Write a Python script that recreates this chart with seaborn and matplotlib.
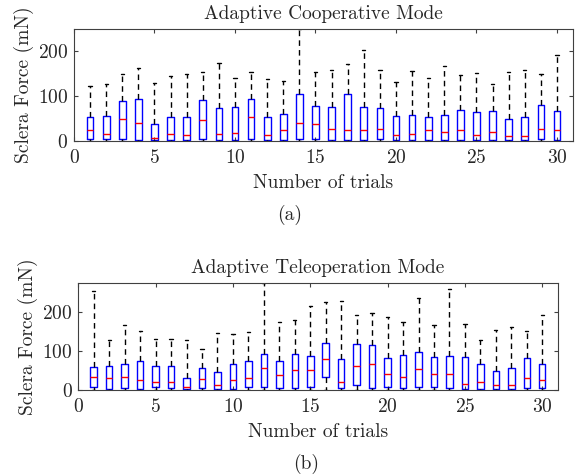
import numpy as np
import pandas as pd
import seaborn as sns
import matplotlib.pyplot as plt

# trial numbers
trials = list(range(1, 31))

# Adaptive Cooperative Mode - box statistics (mN)
coop_low = [0, 0, 0, 0, 0, 0, 0, 0, 0, 0, 0, 0, 0, 0, 0,
            0, 0, 0, 0, 0, 0, 0, 0, 0, 0, 0, 0, 0, 0, 0]
coop_q1 = [5, 5, 4, 3, 2, 3, 3, 4, 3, 3, 4, 3, 3, 5, 4,
           3, 3, 3, 4, 3, 3, 3, 3, 3, 3, 3, 3, 3, 4, 3]
coop_med = [24, 16, 49, 41, 7, 16, 14, 47, 16, 18, 54, 13, 24, 40, 37,
            27, 24, 25, 27, 14, 16, 24, 21, 25, 14, 21, 12, 11, 27, 24]
coop_q3 = [53, 55, 90, 93, 38, 54, 53, 91, 73, 75, 93, 54, 60, 105, 78,
           75, 104, 75, 73, 55, 57, 53, 58, 70, 65, 67, 49, 54, 81, 67]
coop_high = [122, 127, 149, 162, 129, 144, 150, 155, 175, 140, 154, 138, 134, 250, 153,
             158, 171, 203, 158, 131, 156, 141, 167, 147, 151, 128, 153, 158, 150, 193]

# Adaptive Teleoperation Mode
tele_low = [0, 0, 0, 0, 0, 0, 0, 0, 0, 0, 0, 0, 0, 0, 0,
            0, 0, 0, 0, 0, 0, 0, 0, 0, 0, 0, 0, 0, 0, 0]
tele_q1 = [6, 3, 4, 3, 6, 4, 3, 4, 3, 3, 6, 7, 4, 4, 6,
           33, 4, 11, 4, 6, 4, 6, 6, 4, 3, 3, 3, 3, 4, 4]
tele_med = [32, 29, 32, 24, 19, 19, 8, 27, 11, 26, 29, 56, 37, 51, 51,
            79, 19, 61, 65, 41, 33, 52, 41, 41, 14, 21, 12, 11, 29, 26]
tele_q3 = [58, 62, 65, 74, 62, 62, 30, 57, 45, 67, 75, 91, 74, 92, 87,
           121, 80, 118, 116, 82, 89, 97, 83, 86, 85, 67, 49, 55, 81, 67]
tele_high = [254, 129, 167, 150, 131, 131, 127, 104, 146, 143, 148, 275, 173, 179, 215,
             226, 228, 193, 198, 186, 175, 236, 166, 259, 169, 129, 154, 160, 150, 192]


def make_frame(low, q1, med, q3, high):
    rows = []
    for t, a, b, c, d, e in zip(trials, low, q1, med, q3, high):
        for v in (a, b, c, d, e):
            rows.append({'trial': t, 'force': v})
    return pd.DataFrame(rows)


sns.set_style('ticks')
plt.rcParams['font.family'] = 'cmr10'
plt.rcParams['mathtext.fontset'] = 'cm'
plt.rcParams['axes.formatter.use_mathtext'] = True

fs = 14

fig = plt.figure(figsize=(5.79, 4.76), dpi=100)
ax1 = fig.add_axes([0.1278, 0.7038, 0.862, 0.2353])
ax2 = fig.add_axes([0.1352, 0.1813, 0.828, 0.2248])

panels = [
    (ax1, make_frame(coop_low, coop_q1, coop_med, coop_q3, coop_high), 'Adaptive Cooperative Mode', 250),
    (ax2, make_frame(tele_low, tele_q1, tele_med, tele_q3, tele_high), 'Adaptive Teleoperation Mode', 275),
]

for ax, df, title, ytop in panels:
    sns.boxplot(data=df, x='trial', y='force', native_scale=True, whis=np.inf,
                width=0.42, fill=False, color='blue', linewidth=1.0,
                whiskerprops=dict(color='black', linestyle=(0, (4, 3))),
                capprops=dict(color='black'),
                medianprops=dict(color='red'),
                ax=ax)
    ax.set_xlim(0, 31)
    ax.set_ylim(0, ytop)
    ax.set_xticks([0, 5, 10, 15, 20, 25, 30])
    ax.set_yticks([0, 100, 200])
    ax.set_title(title, fontsize=fs, pad=7)
    ax.set_xlabel('Number of trials', fontsize=fs, labelpad=5)
    ax.set_ylabel('Sclera Force (mN)', fontsize=fs, labelpad=3)
    ax.tick_params(direction='in', top=True, right=True, labelsize=fs, length=3,
                   color='#404040')
    ax.tick_params(axis='x', pad=6)
    ax.tick_params(axis='y', pad=4)
    for sp in ax.spines.values():
        sp.set_visible(True)
        sp.set_color('#404040')
        sp.set_linewidth(0.8)

fig.text(290 / 579, 1 - 215 / 476, '(a)', ha='center', va='center', fontsize=fs)
fig.text(306 / 579, 1 - 464 / 476, '(b)', ha='center', va='center', fontsize=fs)

plt.savefig('out.png', dpi=100)
